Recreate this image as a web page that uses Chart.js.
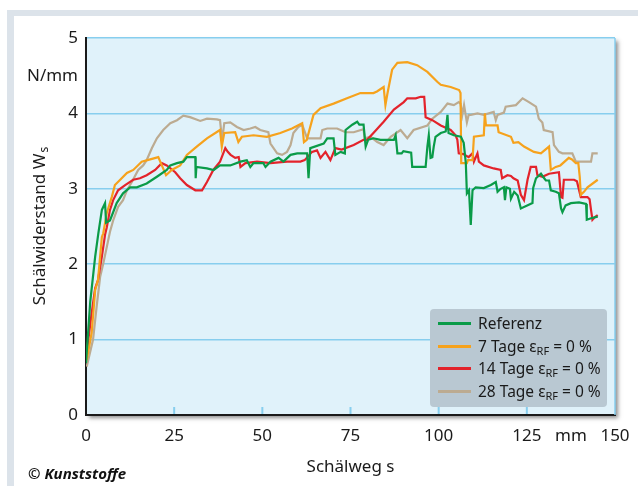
<!DOCTYPE html>
<html>
<head>
<meta charset="utf-8">
<script src="https://cdn.jsdelivr.net/npm/chart.js@4.4.0/dist/chart.umd.min.js"></script>
<style>
  body { margin: 0; background: #fff; }
  #wrap { position: relative; width: 638px; height: 486px; overflow: hidden; font-family: "Noto Sans", sans-serif; }
  #frame { position: absolute; left: 7px; top: 10px; right: -20px; bottom: -20px; border-left: 7px solid #dce3ea; border-top: 6px solid #dce3ea; }
  #chart { position: absolute; left: 0; top: 0; }
  #legend { position: absolute; left: 430px; top: 309px; width: 177px; height: 98px; box-sizing: border-box; padding-top: 3px; background: #b9c8d2; border-radius: 4px; }
  #legend .row { position: relative; height: 22.7px; line-height: 22.7px; padding-left: 48px; font-size: 15.5px; color: #1a1a1a; white-space: nowrap; }
  #legend .swatch { position: absolute; left: 8px; top: 10px; width: 33px; height: 3px; }
  #legend sub { font-size: 11px; vertical-align: -3px; line-height: 0; }
  #copy { position: absolute; left: 28px; top: 463px; font-size: 15px; font-weight: bold; font-style: italic; color: #111; }
</style>
</head>
<body>
<div id="wrap">
  <div id="frame"></div>
  <canvas id="chart" width="638" height="486"></canvas>
  <div id="legend"></div>
  <div id="copy">© Kunststoffe</div>
</div>
<script>
// Schälweg s (mm) and Schälwiderstand (N/mm)
var refX = [0, 1.2, 2.6, 3.5, 4.5, 5.4, 5.7, 6.8, 8.7, 10.5, 12.5, 14.4, 17.2, 20.1, 22.9, 23.9, 25.8, 27.6, 28.6, 31.0, 31.1, 31.3, 34.3, 36.2, 38.0, 40.9, 43.8, 45.6, 46.6, 47.5, 50.3, 50.9, 52.3, 54.6, 56.0, 58.0, 59.9, 62.7, 63.1, 63.6, 67.4, 68.4, 70.2, 70.7, 72.2, 73.4, 73.6, 75.5, 76.9, 77.5, 78.7, 79.3, 80.0, 81.5, 83.5, 87.3, 87.8, 88.3, 89.5, 90.0, 92.2, 92.5, 96.3, 96.8, 97.2, 97.7, 98.2, 98.6, 99.1, 100.6, 102.0, 102.5, 102.8, 104.3, 106.3, 107.1, 107.7, 108.0, 108.6, 109.1, 109.6, 110.5, 112.8, 114.8, 116.2, 116.7, 117.6, 118.5, 118.8, 119.2, 120.2, 120.5, 121.4, 122.4, 123.3, 126.6, 126.8, 127.6, 129.0, 129.6, 130.4, 131.3, 131.8, 133.2, 134.1, 134.7, 135.1, 136.0, 137.5, 139.8, 141.8, 142.0, 143.2, 145.1];
var refY = [0.69, 1.5, 2.1, 2.41, 2.72, 2.81, 2.55, 2.58, 2.81, 2.94, 3.02, 3.02, 3.07, 3.16, 3.25, 3.31, 3.34, 3.36, 3.42, 3.42, 3.14, 3.29, 3.27, 3.25, 3.31, 3.31, 3.36, 3.38, 3.29, 3.34, 3.34, 3.29, 3.36, 3.41, 3.36, 3.45, 3.47, 3.47, 3.14, 3.54, 3.60, 3.67, 3.67, 3.45, 3.49, 3.47, 3.78, 3.85, 3.89, 3.85, 3.85, 3.56, 3.65, 3.67, 3.65, 3.65, 3.71, 3.47, 3.47, 3.50, 3.48, 3.29, 3.29, 3.56, 3.71, 3.41, 3.42, 3.56, 3.69, 3.74, 3.76, 3.98, 3.74, 3.71, 3.69, 3.61, 3.34, 2.94, 2.98, 2.52, 2.98, 3.02, 3.01, 3.05, 3.09, 2.96, 3.00, 3.02, 2.85, 3.02, 3.00, 2.87, 2.96, 2.91, 2.74, 2.81, 3.01, 3.14, 3.20, 3.16, 3.11, 3.11, 2.98, 2.96, 2.94, 2.74, 2.69, 2.78, 2.81, 2.82, 2.80, 2.59, 2.61, 2.63];

var d7X = [0.2, 1.6, 2.6, 3.4, 4.5, 4.9, 5.9, 7.3, 8.2, 9.7, 11.6, 13.4, 15.8, 18.2, 20.5, 21.5, 22.7, 24.3, 26.7, 28.6, 31.4, 34.3, 38.0, 38.5, 39.2, 42.3, 43.2, 44.2, 47.5, 51.3, 55.1, 58.4, 61.3, 61.8, 62.6, 64.5, 66.5, 70.2, 74.0, 77.8, 81.5, 82.5, 84.4, 84.9, 85.5, 86.8, 88.3, 91.1, 93.9, 96.8, 99.6, 100.6, 103.4, 105.8, 106.2, 106.4, 108.0, 108.3, 109.6, 110.0, 112.8, 113.1, 113.4, 116.7, 117.0, 120.5, 121.2, 122.6, 124.2, 127.0, 129.0, 131.3, 131.8, 133.2, 134.5, 136.9, 137.8, 138.9, 139.6, 140.0, 140.3, 141.2, 142.2, 145.1];
var d7Y = [0.73, 1.09, 1.66, 1.79, 2.36, 2.41, 2.68, 2.89, 3.05, 3.12, 3.21, 3.25, 3.36, 3.39, 3.42, 3.31, 3.18, 3.25, 3.31, 3.45, 3.56, 3.67, 3.78, 3.56, 3.74, 3.75, 3.62, 3.69, 3.71, 3.69, 3.74, 3.80, 3.87, 3.62, 3.65, 3.98, 4.07, 4.13, 4.20, 4.27, 4.27, 4.29, 4.35, 4.11, 4.27, 4.58, 4.67, 4.68, 4.64, 4.55, 4.42, 4.38, 4.35, 4.31, 4.27, 3.34, 3.34, 3.38, 3.38, 3.69, 3.71, 4.00, 3.84, 3.84, 3.75, 3.69, 3.61, 3.62, 3.56, 3.49, 3.47, 3.56, 3.25, 3.29, 3.31, 3.41, 3.39, 3.34, 3.34, 3.16, 2.92, 2.96, 3.02, 3.12];

var d14X = [0, 1.6, 2.6, 3.4, 4.5, 5.4, 5.9, 6.8, 7.7, 9.1, 11.1, 13.4, 15.3, 17.2, 19.6, 21.5, 22.9, 25.3, 26.7, 28.6, 31.0, 32.9, 34.3, 36.1, 38.0, 39.5, 40.2, 41.0, 42.3, 43.3, 43.8, 45.2, 48.5, 52.3, 57.0, 60.8, 62.0, 64.1, 65.5, 66.5, 67.9, 69.3, 70.7, 72.5, 75.9, 78.7, 79.7, 81.5, 84.4, 87.3, 90.1, 91.1, 93.5, 94.9, 95.9, 96.3, 98.2, 100.6, 103.4, 104.8, 105.3, 105.7, 107.0, 108.5, 109.6, 110.0, 111.0, 111.4, 112.8, 115.6, 117.6, 118.0, 119.5, 120.5, 121.2, 122.4, 123.3, 124.2, 125.2, 126.1, 127.6, 128.0, 129.4, 131.3, 134.1, 134.7, 135.1, 135.5, 138.4, 139.2, 140.3, 142.2, 142.8, 143.2, 143.6, 144.2, 145.1];
var d14Y = [0.75, 1.35, 1.68, 1.79, 2.10, 2.39, 2.49, 2.72, 2.85, 2.98, 3.05, 3.12, 3.14, 3.18, 3.25, 3.34, 3.31, 3.22, 3.14, 3.05, 2.98, 2.98, 3.09, 3.25, 3.36, 3.54, 3.49, 3.45, 3.41, 3.42, 3.29, 3.34, 3.36, 3.34, 3.36, 3.36, 3.38, 3.49, 3.51, 3.41, 3.49, 3.38, 3.54, 3.52, 3.58, 3.65, 3.65, 3.74, 3.89, 4.05, 4.15, 4.20, 4.20, 4.22, 4.22, 3.95, 3.91, 3.84, 3.78, 3.71, 3.65, 3.47, 3.46, 3.42, 3.47, 3.36, 3.47, 3.36, 3.31, 3.27, 3.25, 3.14, 3.18, 3.17, 3.14, 3.11, 2.92, 2.85, 3.12, 3.29, 3.29, 3.18, 3.16, 3.20, 3.22, 2.89, 2.88, 3.12, 3.12, 3.10, 2.89, 2.89, 2.86, 2.72, 2.59, 2.62, 2.65];

var d28X = [0.2, 2.0, 3.0, 4.0, 4.9, 5.9, 6.8, 7.7, 9.1, 10.5, 11.6, 13.0, 14.8, 16.2, 17.2, 18.7, 20.1, 21.9, 23.9, 25.8, 27.6, 29.5, 32.4, 34.3, 37.1, 38.0, 38.6, 39.2, 40.9, 42.8, 44.7, 46.6, 48.0, 49.4, 51.7, 52.3, 54.2, 55.6, 57.0, 58.0, 58.8, 60.2, 61.3, 62.7, 66.5, 67.0, 68.4, 71.2, 73.6, 75.9, 78.7, 79.0, 80.7, 82.6, 84.4, 86.4, 89.2, 91.1, 92.9, 96.8, 98.2, 100.6, 102.5, 104.3, 105.7, 106.2, 106.7, 107.2, 108.0, 108.5, 109.1, 111.0, 112.8, 115.6, 116.2, 116.7, 118.5, 119.0, 121.9, 123.8, 125.6, 127.6, 128.4, 129.4, 129.8, 132.3, 132.7, 134.1, 135.1, 137.9, 138.9, 143.2, 143.6, 145.1];
var d28Y = [0.64, 1.00, 1.43, 1.83, 2.01, 2.23, 2.43, 2.58, 2.76, 2.85, 2.98, 3.09, 3.25, 3.31, 3.38, 3.54, 3.67, 3.78, 3.87, 3.91, 3.97, 3.95, 3.90, 3.93, 3.92, 3.91, 3.64, 3.87, 3.88, 3.82, 3.78, 3.80, 3.82, 3.78, 3.75, 3.60, 3.47, 3.45, 3.49, 3.58, 3.74, 3.82, 3.85, 3.67, 3.67, 3.78, 3.80, 3.80, 3.75, 3.75, 3.79, 3.67, 3.69, 3.62, 3.58, 3.69, 3.78, 3.67, 3.78, 3.84, 3.93, 4.02, 4.13, 4.11, 4.15, 4.13, 3.98, 4.11, 3.88, 3.98, 3.98, 4.00, 3.98, 4.02, 3.91, 3.98, 4.01, 4.09, 4.11, 4.20, 4.15, 4.09, 3.93, 3.88, 3.78, 3.75, 3.58, 3.49, 3.47, 3.47, 3.36, 3.36, 3.47, 3.47];

var seriesNames = ["Referenz", "7 Tage", "14 Tage", "28 Tage"];
var seriesColors = ["#0a9b48", "#f6a21c", "#e3232b", "#bcab91"];
var xTickValues = [0, 25, 50, 75, 100, 125, 150];
var yTickValues = [0, 1, 2, 3, 4, 5];

function toPoints(xs, ys) {
  return xs.map(function (x, i) { return { x: x, y: ys[i] }; });
}

var txt = "#1a1a1a";
var gridBlue = "#87ceee";

var plotFrame = {
  id: "plotFrame",
  beforeDraw: function (chart) {
    var a = chart.chartArea, c = chart.ctx;
    c.save();
    c.shadowColor = "rgba(50,50,50,0.55)";
    c.shadowBlur = 4;
    c.shadowOffsetX = 3;
    c.shadowOffsetY = 3;
    c.fillStyle = "#e0f2fa";
    c.fillRect(a.left, a.top, a.right - a.left, a.bottom - a.top);
    c.restore();
  },
  afterDraw: function (chart) {
    var a = chart.chartArea, c = chart.ctx, xs = chart.scales.x;
    c.save();
    // right border
    c.strokeStyle = gridBlue;
    c.lineWidth = 1.5;
    c.beginPath();
    c.moveTo(a.right, a.top);
    c.lineTo(a.right, a.bottom);
    c.stroke();
    // small ticks pointing into the plot
    c.lineWidth = 2;
    xTickValues.forEach(function (v) {
      if (v === 0 || v === 150) return;
      var px = xs.getPixelForValue(v);
      c.beginPath();
      c.moveTo(px, a.bottom - 1);
      c.lineTo(px, a.bottom - 8);
      c.stroke();
    });
    // y axis title with subscript
    c.translate(40, (a.top + a.bottom) / 2);
    c.rotate(-Math.PI / 2);
    c.fillStyle = txt;
    c.textBaseline = "middle";
    c.font = '17px "Noto Sans"';
    var main = "Schälwiderstand W";
    var w1 = c.measureText(main).width;
    c.font = '12px "Noto Sans"';
    var w2 = c.measureText("s").width;
    var x0 = -(w1 + w2) / 2;
    c.font = '17px "Noto Sans"';
    c.fillText(main, x0, 0);
    c.font = '12px "Noto Sans"';
    c.fillText("s", x0 + w1 + 1, 5);
    c.restore();
  }
};

var ctx = document.getElementById("chart").getContext("2d");
var chart = new Chart(ctx, {
  type: "line",
  data: {
    datasets: [
      { label: seriesNames[0], data: toPoints(refX, refY), borderColor: seriesColors[0] },
      { label: seriesNames[1], data: toPoints(d7X, d7Y), borderColor: seriesColors[1] },
      { label: seriesNames[2], data: toPoints(d14X, d14Y), borderColor: seriesColors[2] },
      { label: seriesNames[3], data: toPoints(d28X, d28Y), borderColor: seriesColors[3] }
    ]
  },
  options: {
    responsive: false,
    animation: false,
    layout: { padding: { top: 38, right: 23, left: 0, bottom: 0 } },
    plugins: { legend: { display: false }, tooltip: { enabled: false } },
    elements: { point: { radius: 0 }, line: { borderWidth: 2.2, tension: 0 } },
    scales: {
      x: {
        type: "linear",
        min: 0,
        max: 150,
        afterFit: function (s) { s.height = 71; },
        grid: { display: false },
        border: { color: txt, width: 2 },
        ticks: {
          stepSize: 12.5,
          autoSkip: false,
          maxRotation: 0,
          padding: 3,
          color: txt,
          font: { family: "Noto Sans", size: 17 },
          callback: function (v) {
            if (xTickValues.indexOf(v) >= 0) return v;
            return v === 137.5 ? "mm" : "";
          }
        },
        title: { display: true, text: "Schälweg s", color: txt, font: { family: "Noto Sans", size: 17 }, padding: { bottom: 9 } }
      },
      y: {
        min: 0,
        max: 5,
        afterFit: function (s) { s.width = 86; },
        grid: {
          drawTicks: false,
          lineWidth: 1.5,
          color: function (c) {
            return c.tick && yTickValues.indexOf(c.tick.value) >= 0 ? gridBlue : "rgba(0,0,0,0)";
          }
        },
        border: { color: txt, width: 2 },
        ticks: {
          stepSize: 0.5,
          autoSkip: false,
          padding: 8,
          color: txt,
          font: { family: "Noto Sans", size: 17 },
          callback: function (v) {
            if (yTickValues.indexOf(v) >= 0) return v;
            return v === 4.5 ? "N/mm" : "";
          }
        }
      }
    }
  },
  plugins: [plotFrame]
});

// HTML legend so the RF subscript can be shown
var legendEl = document.getElementById("legend");
seriesNames.forEach(function (name, i) {
  var row = document.createElement("div");
  row.className = "row";
  var label = i === 0 ? name : name + " ε<sub>RF</sub> = 0 %";
  row.innerHTML = '<span class="swatch" style="background:' + seriesColors[i] + '"></span>' + label;
  legendEl.appendChild(row);
});
</script>
</body>
</html>
